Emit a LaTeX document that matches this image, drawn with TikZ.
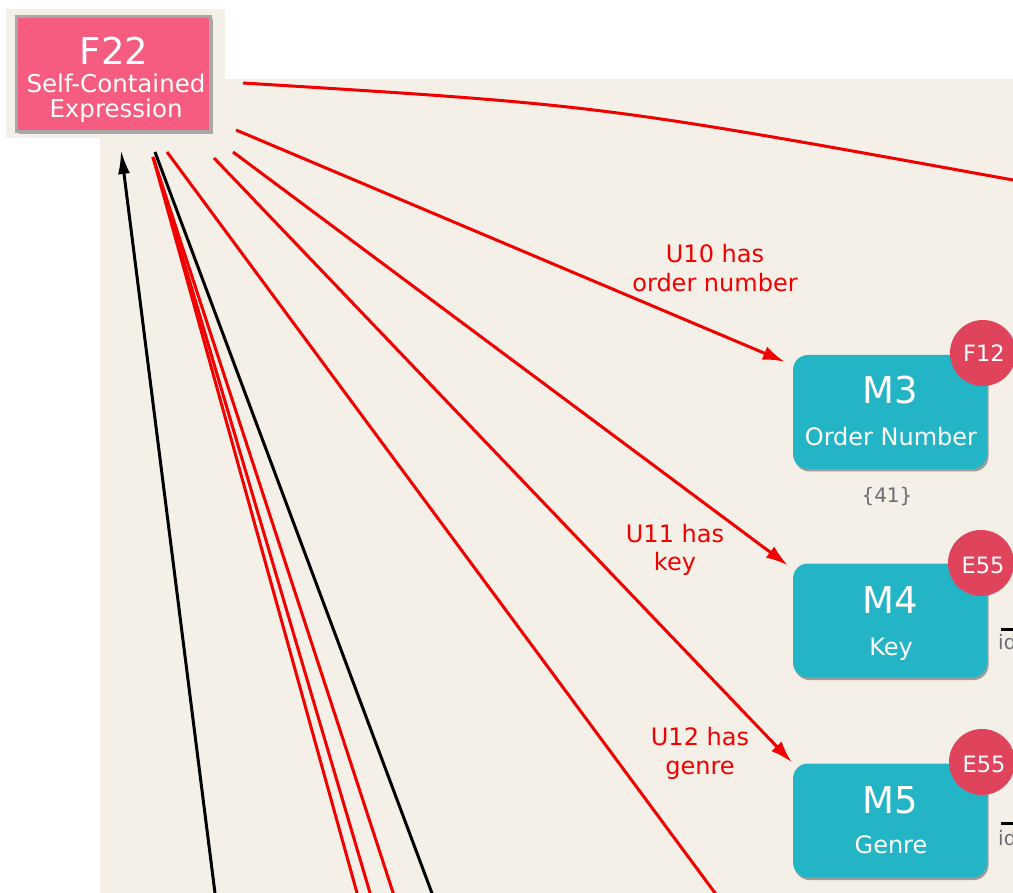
\documentclass[tikz,border=0pt]{standalone}
\usepackage{fontspec}
\setmainfont{DejaVu Sans}
\usetikzlibrary{arrows.meta,shadows}
\definecolor{canvas}{HTML}{F4F0E8}
\definecolor{expr}{HTML}{F55C80}
\definecolor{exprborder}{HTML}{A8A8A8}
\definecolor{manif}{HTML}{23B4C6}
\definecolor{badge}{HTML}{E0435C}
\definecolor{rel}{HTML}{F20000}
\definecolor{note}{HTML}{6B6B73}
\begin{document}
\begin{tikzpicture}[x=1pt,y=-1pt,
  exprbox/.style={fill=expr, draw=exprborder, line width=3pt,
    minimum width=194pt, minimum height=115pt, inner sep=0pt,
    drop shadow={shadow xshift=2pt, shadow yshift=-3pt, fill=black, opacity=.3}},
  mbox/.style={fill=manif, rounded corners=15pt, minimum width=194pt,
    minimum height=114pt, inner sep=0pt,
    drop shadow={shadow xshift=1.5pt, shadow yshift=-2.5pt, fill=black, opacity=.35}},
  badgec/.style={circle, fill=badge, minimum size=66pt, inner sep=0pt},
  wtext/.style={text=white, anchor=base, inner sep=0pt},
  bigt/.style={wtext, font=\fontsize{37}{40}\selectfont},
  subt/.style={wtext, font=\fontsize{24}{28}\selectfont},
  badget/.style={wtext, font=\fontsize{22.5}{26}\selectfont},
  rellabel/.style={text=rel, anchor=base, inner sep=0pt, font=\fontsize{24}{28}\selectfont},
  notet/.style={text=note, anchor=base, inner sep=0pt, font=\fontsize{20}{24}\selectfont},
  relline/.style={draw=rel, line width=3pt},
  relarrow/.style={relline, -{Latex[length=22pt,width=14pt]}},
  blkline/.style={draw=black, line width=3pt},
]
\useasboundingbox (0,0) rectangle (1013,893);
\fill[white] (0,0) rectangle (1013,893);
\clip (0,0) rectangle (1013,893);

% canvas areas
\fill[canvas] (100,79) rectangle (1013,893);
\fill[canvas] (6,9) rectangle (225,138);

% tails of the connectors leaving F22
\coordinate (t0) at (243,83);
\coordinate (t10) at (236,130);
\coordinate (t11) at (233,152);
\coordinate (t12) at (214,158);
\coordinate (tA) at (167,152);
\coordinate (tB) at (155,152);
\coordinate (tC) at (153,157);
\coordinate (hK) at (121,150);

% free ends beyond the visible area
\coordinate (e0) at (1013,180);
\coordinate (eA) at (735,920);
\coordinate (eB) at (442,920);
\coordinate (eC1) at (364.5,920);
\coordinate (eC2) at (378,920);
\coordinate (eC3) at (402,920);
\coordinate (eK) at (218.4,920);

% manifestation boxes
\node[mbox] (M3) at (890,412) {};
\node[mbox] (M4) at (890,620.5) {};
\node[mbox] (M5) at (890,820.5) {};

% connectors
\draw[relline] (t0) .. controls (600,105) .. (e0);
\draw[relarrow] (t10) -- ([shift={(-8,7)}]M3.north west);
\draw[relarrow] (t11) -- ([shift={(-5,2)}]M4.north west);
\draw[relarrow] (t12) -- ([shift={(-1,-1)}]M5.north west);
\draw[relline] (tA) -- (eA);
\draw[relline] (tC) -- (eC1);
\draw[relline] (tC) -- (eC2);
\draw[relline] (tC) -- (eC3);
\draw[blkline] (tB) -- (eB);
\draw[blkline, -{Latex[length=24pt,width=12pt]}] (eK) -- (hK);

% expression node
\node[exprbox] (F22) at (113.5,74) {};
\node[wtext, font=\fontsize{37}{40}\selectfont] (F22a) at (114,65) {F22};
\node[wtext, font=\fontsize{24.5}{27}\selectfont] (F22b) at (116,93) {Self-Contained};
\node[wtext, font=\fontsize{24.5}{27}\selectfont] (F22c) at (116,118) {Expression};

% box texts
\node[bigt] (M3a) at (890,404) {M3};
\node[subt] (M3b) at (891,446) {Order Number};
\node[bigt] (M4a) at (890,613) {M4};
\node[subt] (M4b) at (891,655) {Key};
\node[bigt] (M5a) at (890,813) {M5};
\node[subt] (M5b) at (891,853) {Genre};
\node[notet] (M3v) at (887,503) {\{41\}};

% class badges
\node[badgec] (B3) at (983,353) {};
\node[badget] at (984,362) {F12};
\node[badgec] (B4) at (981,563) {};
\node[badget] at (983,573) {E55};
\node[badgec] (B5) at (982,762) {};
\node[badget] at (984,772) {E55};

% relation labels
\node[rellabel] (L10a) at (715,263) {U10 has};
\node[rellabel] (L10b) at (715,292) {order number};
\node[rellabel] (L11a) at (675,542) {U11 has};
\node[rellabel] (L11b) at (675,570) {key};
\node[rellabel] (L12a) at (700,745) {U12 has};
\node[rellabel] (L12b) at (700,774) {genre};

% stubs continuing to the right
\coordinate (s4) at (1001,629);
\coordinate (s4e) at (1030,629);
\coordinate (s5) at (1001,823);
\coordinate (s5e) at (1030,823);
\draw[black, line width=3pt] (s4) -- (s4e);
\draw[black, line width=3pt] (s5) -- (s5e);
\node[notet, anchor=base west] (i4) at (998,649) {id};
\node[notet, anchor=base west] (i5) at (998,845) {id};
\end{tikzpicture}
\end{document}
